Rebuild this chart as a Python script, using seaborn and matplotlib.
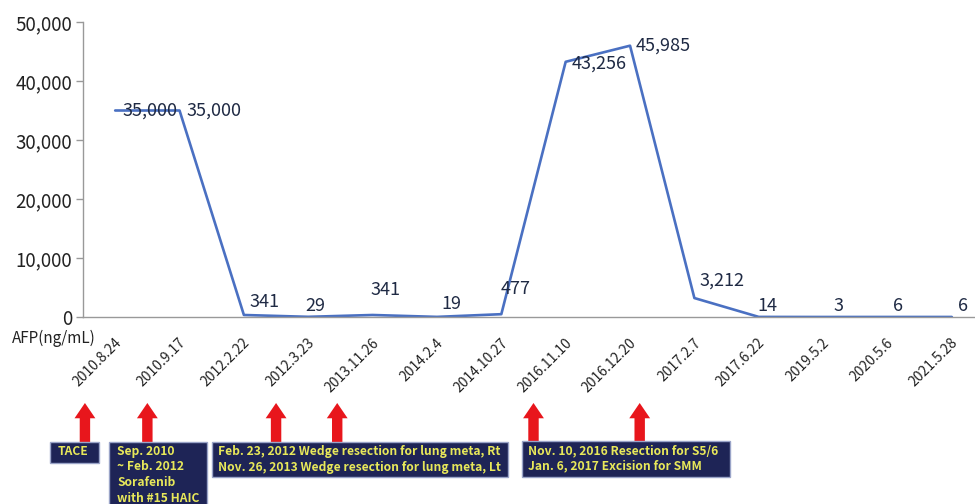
import matplotlib
matplotlib.use('Agg')
import matplotlib.pyplot as plt
import matplotlib.transforms as mtransforms
from matplotlib.patches import Rectangle
import pandas as pd
import seaborn as sns

# AFP measurements
dates = ['2010.8.24', '2010.9.17', '2012.2.22', '2012.3.23', '2013.11.26', '2014.2.4',
         '2014.10.27', '2016.11.10', '2016.12.20', '2017.2.7', '2017.6.22', '2019.5.2',
         '2020.5.6', '2021.5.28']
afp = [35000, 35000, 341, 29, 341, 19, 477, 43256, 45985, 3212, 14, 3, 6, 6]
y_ticks = [0, 10000, 20000, 30000, 40000, 50000]

# treatment events below the axis (arrow position in category units)
event_x = [-0.47, 0.5, 2.5, 3.45, 6.5, 8.15]
event_texts = [
    'TACE',
    'Sep. 2010\n~ Feb. 2012\nSorafenib\nwith #15 HAIC',
    'Feb. 23, 2012 Wedge resection for lung meta, Rt\nNov. 26, 2013 Wedge resection for lung meta, Lt',
    'Nov. 10, 2016 Resection for S5/6\nJan. 6, 2017 Excision for SMM',
]

# layout: label offsets (px) and boxes (left, top, right, bottom px; text left)
label_style = [(7, 0, 'center'), (7, 0, 'center'), (6, 4, 'bottom'), (-3, 2, 'bottom'),
               (-2, 16, 'bottom'), (4, 4, 'bottom'), (-1, 16, 'bottom'), (6, -2, 'center'),
               (6, 0, 'center'), (5, 8, 'bottom'), (-1, 2, 'bottom'), (10, 2, 'bottom'),
               (6, 2, 'bottom'), (6, 2, 'bottom')]
box_rects = [(50, 442, 99, 463), (109, 442, 207, 512), (212, 442, 508, 477), (522, 441, 730, 477)]
text_left = [58, 117, 218, 528]

sns.set_style('white')
plt.rcParams['font.family'] = ['Noto Sans CJK KR', 'DejaVu Sans']

W, H = 975, 504
fig = plt.figure(figsize=(W / 100, H / 100), dpi=100)
ax = fig.add_axes([83 / W, 187 / H, 901 / W, 295 / H])

df = pd.DataFrame({'date': dates, 'afp': afp})
sns.lineplot(data=df, x='date', y='afp', sort=False, color='#4A70C2', linewidth=1.9, ax=ax)

ax.set_xlim(-0.5, len(dates) - 0.5)
ax.set_ylim(0, 50000)
ax.set_yticks(y_ticks)
ax.set_yticklabels([f'{v:,}' for v in y_ticks], fontsize=13.5, color='#222222')
ax.set_xticks(range(len(dates)))
ax.set_xticklabels(dates, rotation=45, ha='right', va='center', rotation_mode='anchor',
                   fontsize=10, color='#222222')
ax.set_xticks([i - 0.5 for i in range(len(dates) + 1)], minor=True)
ax.tick_params(axis='x', which='major', length=0, pad=17)
ax.tick_params(axis='x', which='minor', length=5, color='#999999', width=1)
ax.tick_params(axis='y', length=5, color='#999999', width=1, pad=3, left=True)
shift = mtransforms.ScaledTranslation(4 / 100, 0, fig.dpi_scale_trans)
for lbl in ax.get_xticklabels():
    lbl.set_transform(lbl.get_transform() + shift)
ax.set_xlabel('')
ax.set_ylabel('')
for s in ['top', 'right']:
    ax.spines[s].set_visible(False)
for s in ['left', 'bottom']:
    ax.spines[s].set_color('#999999')
    ax.spines[s].set_linewidth(1)

for i, v in enumerate(afp):
    dx, dy, va = label_style[i]
    ax.annotate(f'{v:,}', xy=(i, v), xytext=(dx * 0.72, dy * 0.72), textcoords='offset points',
                ha='left', va=va, fontsize=13, color='#1F2A44')

fig.text(12 / W, 1 - 338 / H, 'AFP(ng/mL)', fontsize=11, color='#222222', ha='left', va='center')

for x in event_x:
    ax.annotate('', xy=(x, H - 403), xytext=(x, H - 442), xycoords=('data', 'figure pixels'),
                textcoords=('data', 'figure pixels'), annotation_clip=False,
                arrowprops=dict(arrowstyle='simple,head_length=1.1,head_width=1.5,tail_width=0.75',
                                fc='#E8161C', ec='none', shrinkA=0, shrinkB=0))

for (x0, y0, x1, y1), tx, txt in zip(box_rects, text_left, event_texts):
    fig.add_artist(Rectangle((x0 / W, 1 - y1 / H), (x1 - x0) / W, (y1 - y0) / H,
                             transform=fig.transFigure, fc='#1E2456', ec='#9AA4C8', lw=1))
    fig.text(tx / W, 1 - (y0 + 3) / H, txt, ha='left', va='top', fontsize=8.7, fontweight='bold',
             color='#E8E85A', linespacing=1.25)

fig.savefig('out.png', dpi=100, facecolor='white')
